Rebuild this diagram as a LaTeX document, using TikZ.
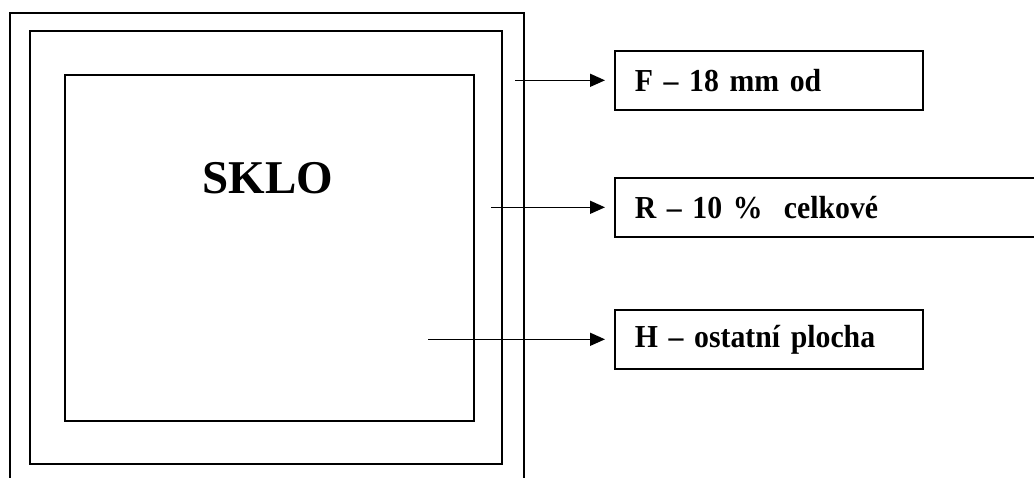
\documentclass[tikz,border=0pt]{standalone}
\usepackage{fontspec}
\setmainfont{Liberation Serif}
\newfontfamily\zonefont{Liberation Serif}[FakeStretch=0.93,Ligatures=TeX]
\usetikzlibrary{positioning,arrows.meta}

\begin{document}
\begin{tikzpicture}[x=1pt, y=-1pt, line width=1.6pt,
		zone/.style={draw, anchor=north west, inner xsep=20pt, minimum height=59pt, text width=#1, align=left, font=\zonefont\bfseries\fontsize{32}{38}\selectfont},
		pointer/.style={-{Triangle[length=15pt,width=13pt]}, shorten >=9pt},
		]
		\useasboundingbox (0,0) rectangle (1034,477);
		\clip (0,0) rectangle (1034,477);
		% frame, spacer and glass
		\draw (10,490) |- (524,13) -- (524,490);
		\draw (30,31) rectangle (502,464);
		\draw (65,75) rectangle (474,421);
		\node[font=\bfseries\fontsize{47}{56}\selectfont] (sklo) at (268,178) {SKLO};
		% labels
		\node[zone=268pt] (f) at (614,50) {F -- 18 mm od};
		\node[zone=400pt] (r) at (614,177) {R -- 10 \%\ \ celkové};
		\node[zone=268pt] (h) at (614,309) {H -- ostatní plocha};
		\coordinate (fstart) at (515,0);
		\coordinate (rstart) at (491,0);
		\coordinate (hstart) at (428,0);
		\draw[pointer] (fstart |- f.west) -- (f.west);
		\draw[pointer] (rstart |- r.west) -- (r.west);
		\draw[pointer] (hstart |- h.west) -- (h.west);
	\end{tikzpicture}
\end{document}
